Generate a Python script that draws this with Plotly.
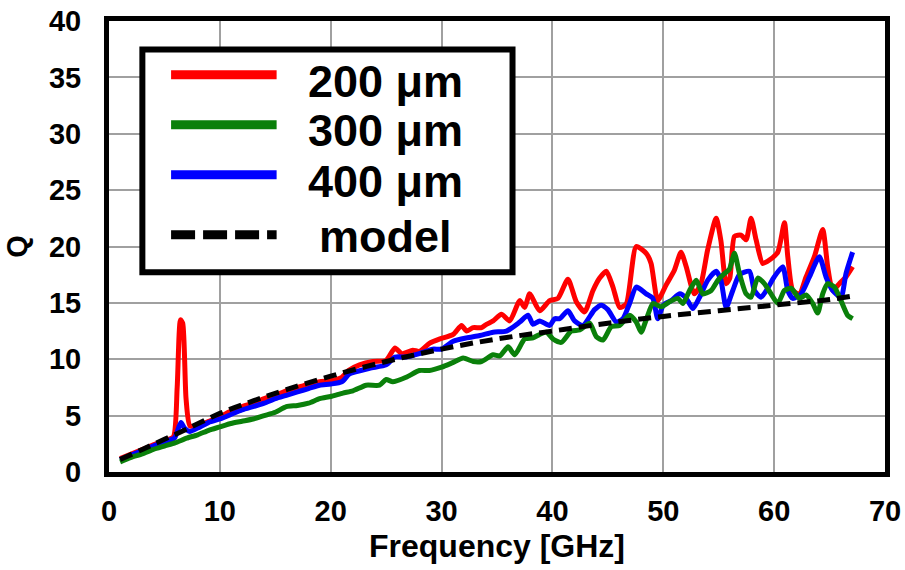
import plotly.graph_objects as go

# ---- data ----
f_200 = [1, 2, 3, 4, 5, 5.8, 6.15, 6.45, 6.65, 6.95, 7.3, 8, 9, 10, 11, 12, 13, 14, 15, 16, 17, 18, 19, 20,
         21, 21.6, 22.6, 23.8, 25, 25.8, 26.4, 27.4, 28, 28.9, 29.85, 31.05, 31.8, 32.25, 32.85, 33.6, 34.05,
         34.65, 35.4, 36.15, 37.05, 37.5, 37.95, 38.85, 39.75, 40.5, 41.4, 42.15, 42.9, 43.66, 44.26, 44.86,
         45.46, 46.06, 46.66, 47.56, 48.46, 48.9, 49.5, 50.26, 51.0, 51.6, 52.07, 52.8, 53.4, 54.0, 54.77,
         55.2, 55.67, 56.0, 56.42, 57.02, 57.47, 57.92, 58.37, 58.97, 59.57, 60.33, 60.93, 61.23, 61.68,
         62.28, 62.88, 63.63, 64.38, 64.83, 65.28, 65.88, 66.48, 67.08]
q_200 = [1.2, 1.6, 2.0, 2.4, 2.8, 3.1, 7.5, 13.5, 13.2, 6.5, 4.1, 4.1, 4.5, 4.9, 5.4, 5.8, 6.1, 6.5, 6.8, 7.2,
         7.5, 7.8, 8.0, 8.1, 8.4, 9.0, 9.5, 9.8, 9.9, 11.0, 10.5, 10.8, 10.7, 11.4, 11.8, 12.2, 13.0, 12.5,
         12.8, 12.8, 13.1, 13.4, 14.0, 13.4, 15.2, 14.6, 15.8, 14.3, 15.2, 15.4, 17.1, 15.1, 14.2, 16.1, 17.2,
         17.8, 16.4, 14.6, 14.9, 20.0, 19.4, 18.5, 15.2, 16.6, 17.9, 19.5, 18.2, 15.8, 16.7, 19.7, 22.5,
         20.5, 16.7, 17.2, 20.9, 21.0, 20.6, 22.5, 20.6, 18.5, 18.8, 19.5, 22.1, 19.1, 16.1, 15.8, 17.3,
         19.1, 21.5, 18.2, 16.1, 16.7, 17.3, 18.2]

f_300 = [1, 2, 3, 4, 5, 6, 7, 8, 9, 10, 11, 12, 13, 14, 15, 16, 17, 18, 19, 20, 21.1, 22.0, 23.2, 24.4, 25.0,
         25.6, 26.8, 28.0, 28.9, 30.0, 31.0, 31.95, 32.85, 33.6, 34.65, 35.25, 36.0, 36.6, 37.5, 38.25,
         38.85, 39.45, 40.05, 40.8, 41.7, 42.46, 43.36, 43.96, 44.56, 45.31, 46.06, 46.96, 47.56, 48.0,
         48.46, 49.06, 49.8, 50.57, 51.32, 51.77, 52.37, 52.97, 53.57, 54.32, 54.92, 55.52, 55.97, 56.42,
         56.87, 57.47, 57.92, 58.52, 59.12, 59.72, 60.33, 60.93, 61.53, 62.28, 62.88, 63.48, 63.93, 64.38,
         64.83, 65.43, 66.03, 66.63, 67.08]
q_300 = [0.9, 1.3, 1.6, 2.0, 2.3, 2.6, 3.0, 3.3, 3.7, 4.0, 4.3, 4.5, 4.7, 5.0, 5.3, 5.8, 5.9, 6.1, 6.5, 6.7,
         7.0, 7.2, 7.7, 7.7, 8.2, 8.0, 8.4, 9.0, 9.0, 9.3, 9.7, 10.1, 9.8, 9.8, 10.4, 10.3, 11.1, 10.4, 11.8,
         11.9, 12.2, 12.4, 11.8, 11.5, 12.5, 12.6, 13.2, 12.0, 11.7, 12.9, 13.0, 13.9, 13.3, 12.4, 13.5,
         14.95, 14.65, 15.1, 15.4, 14.95, 16.1, 17.0, 15.8, 16.1, 17.0, 17.6, 18.0, 19.4, 17.6, 15.8, 15.5,
         17.2, 16.7, 15.8, 14.95, 16.1, 16.3, 15.4, 15.7, 14.95, 14.1, 15.8, 16.7, 16.4, 15.2, 13.9, 13.6]

f_400 = [1, 2, 3, 4, 5, 5.9, 6.3, 6.5, 6.8, 7.3, 8, 9, 10, 11, 12, 13, 14, 15, 16, 17, 18, 19, 20, 21, 21.7,
         23.5, 25.0, 25.8, 26.8, 28.0, 29.2, 30.0, 31.05, 32.25, 33.45, 34.65, 35.85, 37.05, 37.8, 38.25,
         38.85, 39.75, 40.2, 40.65, 41.4, 42.0, 42.75, 43.8, 44.4, 45.0, 45.76, 46.36, 46.96, 47.56, 48.46,
         49.06, 49.5, 50.0, 50.7, 51.5, 52.07, 52.67, 53.27, 54.0, 54.77, 55.2, 55.67, 56.27, 56.87, 57.77,
         58.22, 58.82, 59.42, 60.0, 60.78, 61.23, 61.68, 62.43, 63.18, 64.08, 64.68, 65.28, 66.03, 66.48,
         67.08]
q_400 = [1.1, 1.5, 1.9, 2.3, 2.7, 3.0, 4.0, 4.4, 3.9, 3.6, 3.9, 4.4, 4.7, 5.1, 5.5, 5.8, 6.1, 6.5, 6.8, 7.1,
         7.4, 7.7, 7.8, 8.0, 8.7, 9.2, 9.5, 10.2, 10.2, 10.5, 10.9, 10.9, 11.6, 11.9, 12.1, 12.4, 12.5, 13.3,
         13.9, 13.1, 13.4, 13.0, 13.6, 13.6, 14.3, 13.4, 13.0, 14.4, 14.8, 14.4, 13.3, 13.6, 14.95, 16.4,
         15.8, 15.4, 13.6, 14.8, 15.2, 15.8, 15.4, 14.5, 15.5, 17.0, 17.8, 17.0, 14.6, 16.1, 17.5, 17.8,
         16.1, 15.5, 16.3, 17.3, 18.2, 16.1, 15.4, 15.8, 17.3, 19.1, 17.3, 16.1, 15.5, 17.6, 19.5]

f_model = [1, 3, 5, 7, 10, 13, 16, 20, 25, 30, 35, 40, 45, 50, 55, 60, 65, 67]
q_model = [1.1, 2.0, 2.9, 3.8, 5.2, 6.3, 7.3, 8.5, 9.8, 10.9, 11.8, 12.5, 13.2, 13.8, 14.3, 14.8, 15.3, 15.6]

legend_labels = ["200 μm", "300 μm", "400 μm", "model"]
FONT = "Arial, Liberation Sans, sans-serif"

fig = go.Figure()
fig.add_trace(go.Scatter(x=f_200, y=q_200, mode="lines", name=legend_labels[0],
                         line=dict(color="#ff0000", width=5, shape="spline", smoothing=0.6)))
fig.add_trace(go.Scatter(x=f_400, y=q_400, mode="lines", name=legend_labels[2],
                         line=dict(color="#0000ff", width=5, shape="spline", smoothing=0.6)))
fig.add_trace(go.Scatter(x=f_300, y=q_300, mode="lines", name=legend_labels[1],
                         line=dict(color="#0a800a", width=5, shape="spline", smoothing=0.6)))
fig.add_trace(go.Scatter(x=f_model, y=q_model, mode="lines", name=legend_labels[3],
                         line=dict(color="black", width=5, dash="13px,7px", shape="spline")))

# hand-drawn legend box (wide line samples, like the original)
fig.add_shape(type="rect", xref="paper", yref="paper", x0=0.043, x1=0.52, y0=0.443, y1=0.937,
              line=dict(color="black", width=6), fillcolor="white", layer="above")
row_y = [0.881, 0.770, 0.659, 0.526]
text_y = [0.866, 0.757, 0.645, 0.523]
colors = ["#ff0000", "#0a800a", "#0000ff", "black"]
for i in range(4):
    fig.add_shape(type="line", xref="paper", yref="paper", x0=0.08, x1=0.216, y0=row_y[i], y1=row_y[i],
                  line=dict(color=colors[i], width=9, dash="24px,8px" if i == 3 else "solid"),
                  layer="above")
    fig.add_annotation(xref="paper", yref="paper", x=0.356, y=text_y[i], text="<b>%s</b>" % legend_labels[i],
                       showarrow=False, xanchor="center", yanchor="middle",
                       font=dict(family=FONT, size=45, color="black"))

axis_common = dict(showline=True, linewidth=5, linecolor="black", mirror=True,
                   showgrid=True, gridcolor="#a0a0a0", gridwidth=1.5, zeroline=False,
                   ticks="", automargin=False, ticklabeloverflow="allow",
                   tickfont=dict(family=FONT, size=29, color="black", weight="bold"))
fig.update_xaxes(range=[0, 70], dtick=10, ticklabelstandoff=9, **axis_common,
                 title=dict(text="<b>Frequency [GHz]</b>", font=dict(family=FONT, size=32, color="black"),
                            standoff=10))
fig.update_yaxes(range=[0, 40], dtick=5, ticklabelstandoff=17, **axis_common,
                 title=dict(text="<b>Q</b>", font=dict(family=FONT, size=29, color="black"), standoff=14))

fig.update_layout(width=905, height=570, showlegend=False,
                  paper_bgcolor="white", plot_bgcolor="white",
                  margin=dict(l=109, r=20, t=21, b=98))
# drop the default 8px body margin so the figure fills the window exactly
fig.write_html("out.html", config={"displayModeBar": False},
               post_script="document.body.style.margin='0px';")
